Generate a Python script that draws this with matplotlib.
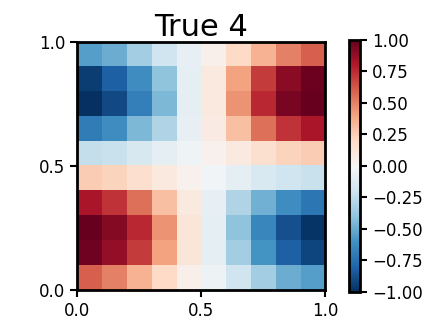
import numpy as np
import matplotlib
matplotlib.use("Agg")
import matplotlib.pyplot as plt

# Values, listed top row first
row0 = [-0.55, -0.50, -0.35, -0.20, -0.08, 0.05, 0.20, 0.35, 0.50, 0.60]
row1 = [-0.95, -0.82, -0.62, -0.40, -0.10, 0.10, 0.40, 0.70, 0.90, 0.98]
row2 = [-1.00, -0.90, -0.68, -0.45, -0.10, 0.10, 0.45, 0.75, 0.95, 1.00]
row3 = [-0.70, -0.62, -0.45, -0.30, -0.08, 0.08, 0.30, 0.55, 0.72, 0.82]
row4 = [-0.24, -0.22, -0.16, -0.10, -0.04, 0.04, 0.10, 0.16, 0.22, 0.25]
row5 = [0.25, 0.22, 0.17, 0.10, 0.04, -0.03, -0.10, -0.15, -0.20, -0.22]
row6 = [0.82, 0.72, 0.55, 0.30, 0.10, -0.08, -0.30, -0.48, -0.62, -0.72]
row7 = [1.00, 0.92, 0.75, 0.45, 0.12, -0.10, -0.40, -0.65, -0.88, -0.98]
row8 = [0.97, 0.88, 0.70, 0.40, 0.12, -0.10, -0.35, -0.60, -0.82, -0.92]
row9 = [0.60, 0.50, 0.35, 0.20, 0.05, -0.05, -0.20, -0.35, -0.50, -0.55]

title = "True 4"
xticks = [0.0, 0.5, 1.0]
yticks = [0.0, 0.5, 1.0]
cbar_ticks = [-1.0, -0.75, -0.5, -0.25, 0.0, 0.25, 0.5, 0.75, 1.0]

Z = np.array([row0, row1, row2, row3, row4, row5, row6, row7, row8, row9])

fig = plt.figure(figsize=(4.32, 3.24), dpi=100)
ax = fig.add_axes([0.178, 0.10, 0.575, 0.777])
im = ax.imshow(Z, cmap="RdBu_r", vmin=-1, vmax=1, extent=[0, 1, 0, 1],
               origin="upper", interpolation="nearest")
ax.set_xticks(xticks)
ax.set_yticks(yticks)
ax.set_xticklabels(["0.0", "0.5", "1.0"])
ax.set_yticklabels(["0.0", "0.5", "1.0"])
ax.tick_params(labelsize=12, width=1.5, length=5)
for s in ax.spines.values():
    s.set_linewidth(2)
ax.set_title(title, fontsize=22, pad=4)

cax = fig.add_axes([0.808, 0.10, 0.026, 0.777])
cb = fig.colorbar(im, cax=cax, ticks=cbar_ticks)
cb.ax.set_yticklabels(["\u22121.00", "\u22120.75", "\u22120.50", "\u22120.25", "0.00",
                       "0.25", "0.50", "0.75", "1.00"])
cb.ax.tick_params(labelsize=12, width=1.5, length=5)
cb.outline.set_linewidth(2)

fig.savefig("out.png", dpi=100)
